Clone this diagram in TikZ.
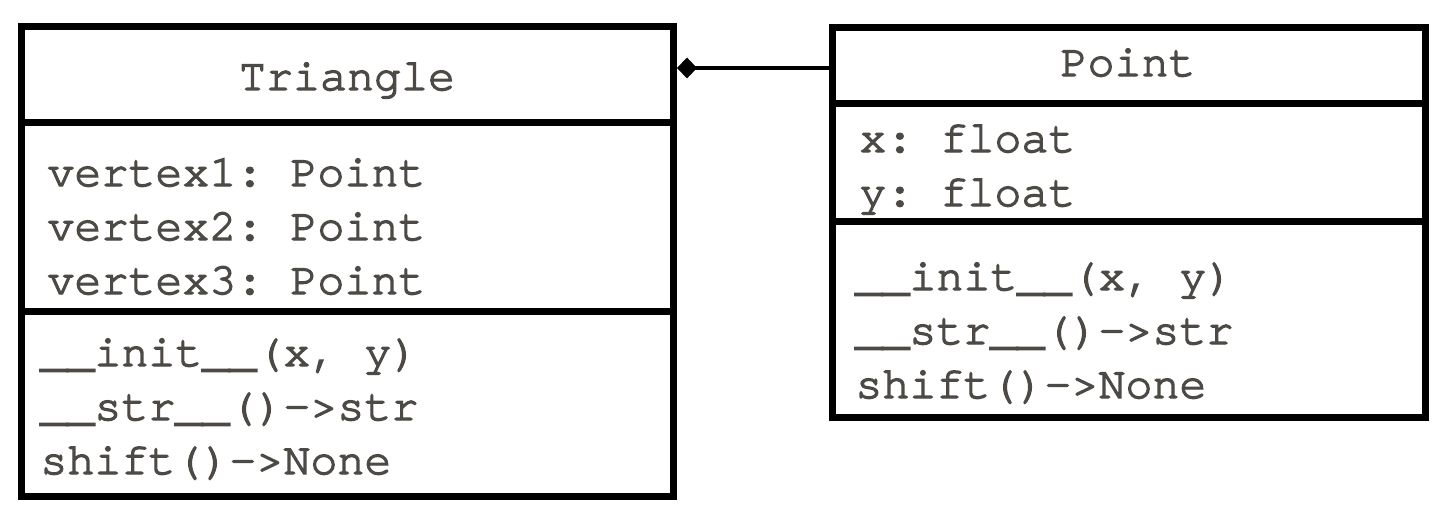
\documentclass[tikz,border=0pt]{standalone}
\usepackage{fontspec}
\setmonofont{TeX Gyre Cursor}[FakeBold=3, Ligatures={NoCommon}, RawFeature=-liga]
\usetikzlibrary{arrows.meta}
\definecolor{umltext}{RGB}{77,74,70}
\begin{document}
\begin{tikzpicture}[x=0.5pt, y=-0.5pt,
		compartment/.style={draw, line width=3.5pt, inner sep=0pt},
		member/.style={anchor=base west, inner sep=0pt, text=umltext, font=\fontsize{22.5pt}{27pt}\selectfont\ttfamily},
		classname/.style={member, anchor=base},
		composition/.style={{Diamond[length=10pt, width=10.5pt]}-, line width=2pt}]
	\useasboundingbox (0,0) rectangle (1454,524);
	
	% Triangle
	\node[compartment, minimum width=326pt, minimum height=47.75pt] (tri-head) at (347.5,74.25) {};
	\node[compartment, minimum width=326pt, minimum height=94.5pt] (tri-attr) at (347.5,216.5) {};
	\node[compartment, minimum width=326pt, minimum height=92.5pt] (tri-meth) at (347.5,403.5) {};
	\node[classname] (tri-name) at (347,90) {Triangle};
	\node[member] (tri-a1) at (47,186) {vertex1: Point};
	\node[member] (tri-a2) at (47,240) {vertex2: Point};
	\node[member] (tri-a3) at (47,294) {vertex3: Point};
	\node[member] (tri-m1) at (40,366) {\_\_init\_\_(x, y)};
	\node[member] (tri-m2) at (40,420) {\_\_str\_\_()->str};
	\node[member] (tri-m3) at (40,474) {shift()->None};
	
	% Point
	\node[compartment, minimum width=296.75pt, minimum height=38pt] (pt-head) at (1128.75,65.5) {};
	\node[compartment, minimum width=296.75pt, minimum height=59pt] (pt-attr) at (1128.75,162.5) {};
	\node[compartment, minimum width=296.75pt, minimum height=97.75pt] (pt-meth) at (1128.75,319.25) {};
	\node[classname] (pt-name) at (1128,76) {Point};
	\node[member] (pt-a1) at (859,152) {x: float};
	\node[member] (pt-a2) at (859,206) {y: float};
	\node[member] (pt-m1) at (855,290) {\_\_init\_\_(x, y)};
	\node[member] (pt-m2) at (855,344) {\_\_str\_\_()->str};
	\node[member] (pt-m3) at (855,398) {shift()->None};
	
	\coordinate (link) at (750,68);
	\draw[composition] (tri-head.east |- link) -- (pt-head.west |- link);
	
\end{tikzpicture}
\end{document}
